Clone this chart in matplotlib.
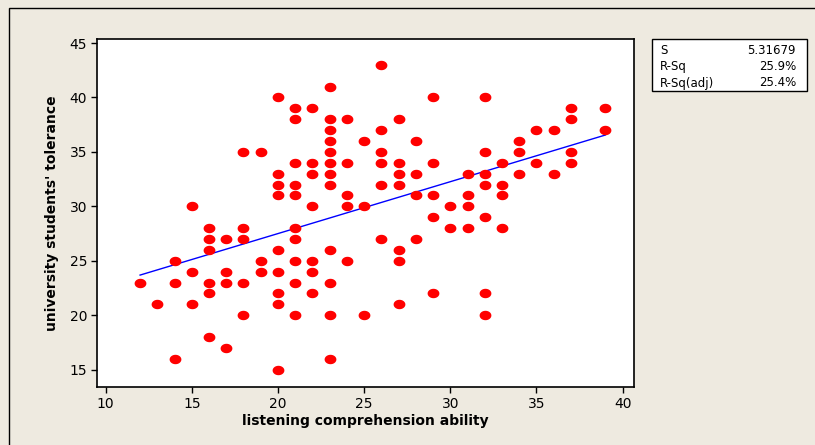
import numpy as np
import matplotlib.pyplot as plt
from matplotlib.path import Path
from matplotlib.patches import Rectangle

# listening comprehension ability (x) -> university students' tolerance (y values)
x_vals = [12, 13, 14, 15, 16, 17, 18, 19, 20, 21, 22, 23, 24, 25, 26, 27, 28,
          29, 30, 31, 32, 33, 34, 35, 36, 37, 39]
y_groups = [
    [23],
    [21],
    [25, 23, 16],
    [30, 24, 21],
    [28, 27, 26, 23, 22, 18],
    [27, 24, 23, 17],
    [35, 28, 27, 23, 20],
    [35, 25, 24],
    [40, 33, 32, 31, 26, 24, 22, 21, 15],
    [39, 38, 34, 32, 31, 28, 27, 25, 23, 20],
    [39, 34, 33, 30, 25, 24, 22],
    [41, 38, 37, 36, 35, 34, 33, 32, 26, 23, 20, 16],
    [38, 34, 31, 30, 25],
    [36, 30, 20],
    [43, 37, 35, 34, 32, 27],
    [38, 34, 33, 32, 26, 25, 21],
    [36, 33, 31, 27],
    [40, 34, 31, 29, 22],
    [30, 28],
    [33, 31, 30, 28],
    [40, 35, 33, 32, 29, 22, 20],
    [34, 32, 31, 28],
    [36, 35, 33],
    [37, 34],
    [37, 33],
    [39, 38, 35, 34],
    [39, 37],
]
stat_names = ["S", "R-Sq", "R-Sq(adj)"]
stat_values = ["5.31679", "25.9%", "25.4%"]
x_ticks = [10, 15, 20, 25, 30, 35, 40]
y_ticks = [15, 20, 25, 30, 35, 40, 45]

xs = np.array([x for x, ys in zip(x_vals, y_groups) for _ in ys], dtype=float)
ys = np.array([y for ys_ in y_groups for y in ys_], dtype=float)

bg = "#EEEAE0"
W, H = 815, 445
fig = plt.figure(figsize=(W / 100, H / 100), dpi=100, facecolor=bg)

# outer frame (top/left border of the Minitab window)
fig.patches.append(Rectangle((9 / W, -0.1), 1.2, (H - 8) / H + 0.1,
                             transform=fig.transFigure, fill=False,
                             edgecolor="black", linewidth=1.0))

ax = fig.add_axes([97 / W, 1 - 387 / H, (634 - 97) / W, (387 - 39) / H])
ax.set_facecolor("white")

# slightly flattened dot like the original
t = np.linspace(0, 2 * np.pi, 40)
ell = Path(np.column_stack([np.cos(t), 0.8 * np.sin(t)]), closed=True)
ax.scatter(xs, ys, marker=ell, s=72, color="#FF0000", linewidths=0, zorder=3)

b, a = np.polyfit(xs, ys, 1)
xl = np.array([xs.min(), xs.max()])
ax.plot(xl, a + b * xl, color="#0000FF", linewidth=1.0, zorder=2)

ax.set_xlim(9.5, 40.66)
ax.set_ylim(13.4, 45.37)
ax.set_xticks(x_ticks)
ax.set_yticks(y_ticks)
ax.tick_params(direction="out", length=4, width=1, labelsize=10, pad=3)
for s in ax.spines.values():
    s.set_linewidth(1.2)

ax.set_xlabel("listening comprehension ability", fontsize=10, fontweight="bold", labelpad=2)
ax.set_ylabel("university students' tolerance", fontsize=10, fontweight="bold", labelpad=8)

# summary box
box_l, box_t, box_r, box_b = 652, 39, 807, 91
fig.patches.append(Rectangle((box_l / W, 1 - box_b / H), (box_r - box_l) / W,
                             (box_b - box_t) / H, transform=fig.transFigure,
                             facecolor="white", edgecolor="black", linewidth=1))
for i, (n, v) in enumerate(zip(stat_names, stat_values)):
    yy = 1 - (50 + i * 16.5) / H
    fig.text(660 / W, yy, n, fontsize=8.5, va="center", ha="left")
    fig.text(796 / W, yy, v, fontsize=8.5, va="center", ha="right")

fig.savefig("out.png", dpi=100, facecolor=bg)
